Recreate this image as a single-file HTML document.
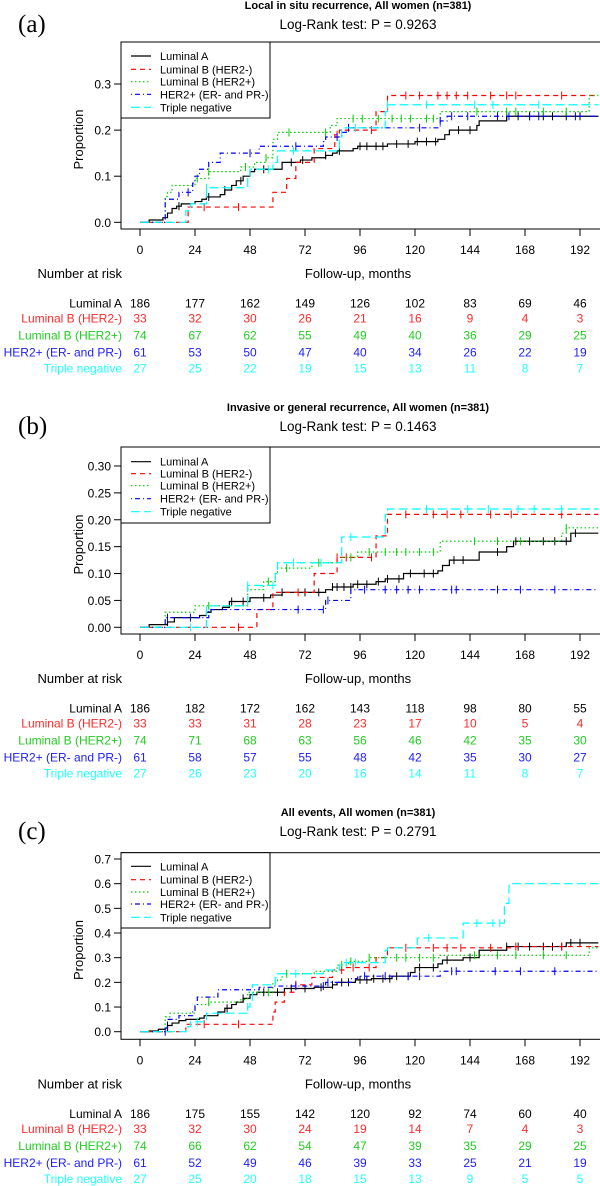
<!DOCTYPE html>
<html><head><meta charset="utf-8"><style>
html,body{margin:0;padding:0;background:#fff;}
svg{display:block;font-family:"Liberation Sans",Arial,sans-serif;}
</style></head><body>
<svg id="fig" width="600" height="1186" viewBox="0 0 600 1186" xmlns="http://www.w3.org/2000/svg"></svg>
<script>
// ---------- data ----------
const seriesNames = ["Luminal A","Luminal B (HER2-)","Luminal B (HER2+)","HER2+ (ER- and PR-)","Triple negative"];
const xTicks = [0,24,48,72,96,120,144,168,192];

// Panel A: step curves [month, proportion]
const aLumA = [[0,0],[4,0.005],[10,0.01],[12,0.02],[14,0.03],[16,0.035],[18,0.04],[24,0.045],[27,0.05],[29,0.055],[35,0.06],[37,0.07],[40,0.08],[42,0.09],[45,0.1],[48,0.11],[50,0.115],[62,0.13],[70,0.135],[75,0.14],[81,0.145],[84,0.15],[86,0.155],[93,0.16],[95,0.165],[108,0.17],[120,0.175],[130,0.18],[133,0.19],[135,0.2],[147,0.21],[148,0.22],[160,0.23],[200,0.23]];
const aLumBneg = [[0,0],[21,0.033],[58,0.065],[64,0.095],[68,0.13],[76,0.16],[85,0.19],[87,0.2],[103,0.24],[108,0.275],[200,0.275]];
const aLumBpos = [[0,0],[11,0.056],[12,0.065],[14,0.08],[24,0.095],[30,0.11],[44,0.12],[50,0.13],[55,0.14],[58,0.18],[60,0.195],[83,0.21],[86,0.225],[131,0.24],[196,0.275],[200,0.275]];
const aHer2 = [[0,0],[11,0.05],[17,0.065],[23,0.085],[24,0.1],[26,0.115],[30,0.13],[35,0.15],[52,0.165],[80,0.175],[81,0.185],[88,0.195],[90,0.205],[131,0.22],[134,0.23],[200,0.23]];
const aTN = [[0,0],[20,0.025],[22,0.04],[29,0.075],[47,0.1],[48,0.115],[58,0.13],[60,0.155],[87,0.185],[88,0.205],[107,0.24],[108,0.255],[200,0.255]];
const aCens = [[17,30,37,44,54,66,71,81,87,96,99,103,106,112,117,121,125,129,139,144,160,165,170,176,180,186,192],[28,43,86,101,116,122,130,134,138,143,153,160,164,184],[25,30,46,55,65,81,93,97,104,110,114,118,125,128,147,160,164,176,186],[21,48,68,86,91,122,131,136,143,156,161,170,174,190],[29,56,67,94,108,125,146,154,174]];
const aRisk = [[186,177,162,149,126,102,83,69,46],[33,32,30,26,21,16,9,4,3],[74,67,62,55,49,40,36,29,25],[61,53,50,47,40,34,26,22,19],[27,25,22,19,15,13,11,8,7]];
const aYTicks = [0,0.1,0.2,0.3];

// Panel B
const bLumA = [[0,0],[4,0.005],[12,0.01],[15,0.018],[26,0.022],[29,0.028],[31,0.033],[36,0.037],[39,0.048],[48,0.055],[57,0.06],[62,0.065],[81,0.07],[84,0.075],[93,0.08],[103,0.085],[107,0.09],[115,0.1],[130,0.105],[132,0.115],[135,0.125],[148,0.14],[160,0.15],[163,0.16],[188,0.175],[200,0.175]];
const bLumBneg = [[0,0],[51,0.033],[58,0.065],[76,0.1],[86,0.13],[103,0.17],[108,0.21],[200,0.21]];
const bLumBpos = [[0,0],[11,0.028],[24,0.04],[47,0.07],[54,0.085],[59,0.1],[60,0.11],[75,0.12],[88,0.13],[95,0.14],[131,0.16],[184,0.175],[186,0.185],[200,0.185]];
const bHer2 = [[0,0],[11,0.018],[30,0.033],[81,0.05],[92,0.07],[200,0.07]];
const bTN = [[0,0],[29,0.04],[47,0.078],[59,0.1],[60,0.12],[88,0.168],[107,0.21],[108,0.22],[200,0.22]];
const bCens = [[12,40,45,54,62,72,78,84,86,89,92,95,99,104,108,113,118,124,128,137,141,156,164,170,176,181,186,190],[43,69,86,90,101,116,128,134,140,153,162,184],[30,56,64,78,92,100,107,112,116,122,128,146,156,166,186],[12,22,69,80,82,98,107,112,117,122,136,138,156,166,181],[22,47,58,67,79,92,125,143,152,165,172,184]];
const bRisk = [[186,182,172,162,143,118,98,80,55],[33,33,31,28,23,17,10,5,4],[74,71,68,63,56,46,42,35,30],[61,58,57,55,48,42,35,30,27],[27,26,23,20,16,14,11,8,7]];
const bYTicks = [0,0.05,0.10,0.15,0.20,0.25,0.30];

// Panel C
const cLumA = [[0,0],[4,0.003],[8,0.01],[11,0.015],[12,0.025],[14,0.035],[17,0.045],[20,0.05],[26,0.055],[28,0.065],[34,0.08],[37,0.095],[40,0.11],[42,0.12],[45,0.135],[48,0.15],[51,0.16],[63,0.175],[76,0.18],[84,0.19],[86,0.2],[94,0.21],[101,0.215],[110,0.225],[118,0.24],[120,0.26],[130,0.275],[132,0.29],[141,0.3],[148,0.33],[160,0.345],[186,0.36],[200,0.36]];
const cLumBneg = [[0,0],[20,0.03],[58,0.08],[59,0.12],[63,0.16],[68,0.19],[75,0.22],[84,0.25],[89,0.26],[103,0.3],[108,0.34],[163,0.345],[200,0.345]];
const cLumBpos = [[0,0],[11,0.06],[13,0.075],[24,0.11],[30,0.12],[44,0.13],[47,0.16],[58,0.2],[60,0.21],[62,0.235],[76,0.245],[86,0.27],[91,0.285],[100,0.3],[131,0.31],[196,0.34],[200,0.34]];
const cHer2 = [[0,0],[12,0.05],[17,0.065],[23,0.085],[24,0.105],[25,0.14],[34,0.17],[52,0.18],[58,0.185],[81,0.2],[92,0.215],[95,0.225],[131,0.245],[200,0.245]];
const cTN = [[0,0],[20,0.02],[22,0.04],[29,0.075],[47,0.1],[48,0.12],[49,0.19],[59,0.22],[60,0.235],[80,0.25],[87,0.27],[88,0.28],[107,0.33],[108,0.34],[121,0.38],[141,0.44],[159,0.52],[161,0.6],[200,0.6]];
const cCens = [[12,38,45,54,60,66,72,79,84,88,91,96,99,102,106,109,112,117,122,128,134,144,160,165,170,176,180,184,188,192],[28,43,68,88,93,100,116,128,134,140,153,164,184],[30,56,64,88,92,100,112,116,122,128,146,156,164,176,186],[11,68,80,82,98,107,117,122,136,138,155,166,181],[25,47,68,90,94,126,147,154,157]];
const cRisk = [[186,175,155,142,120,92,74,60,40],[33,32,30,24,19,14,7,4,3],[74,66,62,54,47,39,35,29,25],[61,52,49,46,39,33,25,21,19],[27,25,20,18,15,13,9,5,5]];
const cYTicks = [0,0.1,0.2,0.3,0.4,0.5,0.6,0.7];

// ---------- rendering ----------
const NS = "http://www.w3.org/2000/svg";
const svg = document.getElementById("fig");
const colors = ["#000000","#ff0000","#00cd00","#0000ff","#00ffff"];
const dashes = ["none","5,4","1.5,2.5","1,3,5,3","9,4"];
const tableColors = ["#000000","#ff2a2a","#22cc22","#2020ff","#22ffff"];
function mk(tag, attrs, parent){
  const e = document.createElementNS(NS, tag);
  for (const k in attrs) e.setAttribute(k, attrs[k]);
  (parent||svg).appendChild(e);
  return e;
}
function txt(s, attrs, parent){ const e = mk("text", attrs, parent); e.textContent = s; return e; }

function panel(cfg){
  const g = mk("g", {});
  
  
  const xS = t => 140 + t * (440/192);
  const yS = v => cfg.y0 - (v / cfg.yMax) * (cfg.y0 - cfg.yTop);
  const L = txt("(" + cfg.letter + ")", {x:18, y:cfg.top+32, "font-family":"Liberation Serif, serif", "font-size":"25"}, g);
  
  
  const t1 = txt(cfg.title, {x:358, y:cfg.top+9, "text-anchor":"middle", "font-weight":"bold", "font-size":"11"}, g);
  
  
  const t2 = txt(cfg.sub, {x:358, y:cfg.top+29, "text-anchor":"middle", "font-size":"13.5"}, g);
  
  
  const box = mk("rect", {x:121, y:cfg.boxTop, width:490, height:cfg.boxBot-cfg.boxTop, fill:"none", stroke:"#000", "stroke-width":"1"}, g);
  
  
  cfg.yTicks.forEach(v => {
    const y = yS(v);
    const tk = mk("line", {x1:114, x2:121, y1:y, y2:y, stroke:"#000"}, g);
    
    
    const lb = txt(v.toFixed(cfg.dec), {x:111, y:y+4.5, "text-anchor":"end", "font-size":"12"}, g);
    
    
  });
  const yl = txt("Proportion", {x:0, y:0, "text-anchor":"middle", "font-size":"13", transform:"translate(83," + ((cfg.boxTop+cfg.boxBot)/2+4) + ") rotate(-90)"}, g);
  
  
  xTicks.forEach(t => {
    const x = xS(t);
    const tk = mk("line", {x1:x, x2:x, y1:cfg.boxBot, y2:cfg.boxBot+7, stroke:"#000"}, g);
    
    
    const lb = txt(String(t), {x:x, y:cfg.boxBot+25, "text-anchor":"middle", "font-size":"12"}, g);
    
    
  });
  const xl = txt("Follow-up, months", {x:358, y:cfg.boxBot+49, "text-anchor":"middle", "font-size":"13"}, g);
  
  
  const nr = txt("Number at risk", {x:122, y:cfg.boxBot+49, "text-anchor":"end", "font-size":"13"}, g);
  
  
  const cid = "clip" + cfg.letter;
  const cp = mk("clipPath", {id:cid}, g);
  mk("rect", {x:121, y:cfg.boxTop, width:479, height:cfg.boxBot-cfg.boxTop}, cp);
  cfg.curves.forEach((pts, i) => {
    let d = "M" + xS(pts[0][0]) + "," + yS(pts[0][1]);
    for (let k = 1; k < pts.length; k++) {
      d += " H" + xS(pts[k][0]) + " V" + yS(pts[k][1]);
    }
    const p = mk("path", {d:d, fill:"none", stroke:colors[i], "stroke-width":"1.2", "stroke-dasharray":dashes[i], "clip-path":"url(#"+cid+")"}, g);
    
    
    cfg.cens[i].forEach(t => {
      let v = 0;
      for (const pt of pts) { if (pt[0] <= t) v = pt[1]; }
      const x = xS(t), y = yS(v);
      const c = mk("line", {x1:x, x2:x, y1:y-4, y2:y+4, stroke:colors[i], "stroke-width":"1", "clip-path":"url(#"+cid+")"}, g);
      
      
    });
  });
  const lg = mk("g", {}, g);
  
  
  mk("rect", {x:121, y:cfg.boxTop, width:149, height:cfg.legBot-cfg.boxTop, fill:"#fff", stroke:"#000"}, lg);
  seriesNames.forEach((n, i) => {
    const y = cfg.legY[i];
    const ln = mk("line", {x1:131, x2:151, y1:y, y2:y, stroke:colors[i], "stroke-width":"1.2", "stroke-dasharray":dashes[i]}, lg);
    
    
    const lt = txt(n, {x:160, y:y+4, "font-size":"11"}, lg);
    
    
  });
  cfg.risk.forEach((row, i) => {
    const y = cfg.boxBot + cfg.rowOff[i];
    const rl = txt(seriesNames[i], {x:122, y:y+4.5, "text-anchor":"end", "font-size":"12", fill:tableColors[i]}, g);
    
    
    row.forEach((n, j) => {
      const c = txt(String(n), {x:xS(xTicks[j]), y:y+4.5, "text-anchor":"middle", "font-size":"12", fill:tableColors[i]}, g);
      
      
    });
  });
}
const rowOff = [74,89,106,123,139];
panel({letter:"a", top:0, title:"Local in situ recurrence, All women (n=381)", sub:"Log-Rank test: P = 0.9263",
  boxTop:42, boxBot:229, y0:222.3, yTop:84, yMax:0.3, yTicks:aYTicks, dec:1,
  legBot:118, legY:[56,69.3,81.7,94.3,107.3],
  curves:[aLumA,aLumBneg,aLumBpos,aHer2,aTN], cens:aCens, risk:aRisk, rowOff:rowOff});
panel({letter:"b", top:402, title:"Invasive or general recurrence, All women (n=381)", sub:"Log-Rank test: P = 0.1463",
  boxTop:447, boxBot:634, y0:627.3, yTop:466, yMax:0.3, yTicks:bYTicks, dec:2,
  legBot:523, legY:[461.7,473.7,485.7,498.7,511.7],
  curves:[bLumA,bLumBneg,bLumBpos,bHer2,bTN], cens:bCens, risk:bRisk, rowOff:rowOff});
panel({letter:"c", top:807, title:"All events, All women (n=381)", sub:"Log-Rank test: P = 0.2791",
  boxTop:852.7, boxBot:1039.3, y0:1031.7, yTop:859, yMax:0.7, yTicks:cYTicks, dec:1,
  legBot:928, legY:[866.3,879.7,892,904,917.3],
  curves:[cLumA,cLumBneg,cLumBpos,cHer2,cTN], cens:cCens, risk:cRisk, rowOff:rowOff});
</script>
</body></html>
